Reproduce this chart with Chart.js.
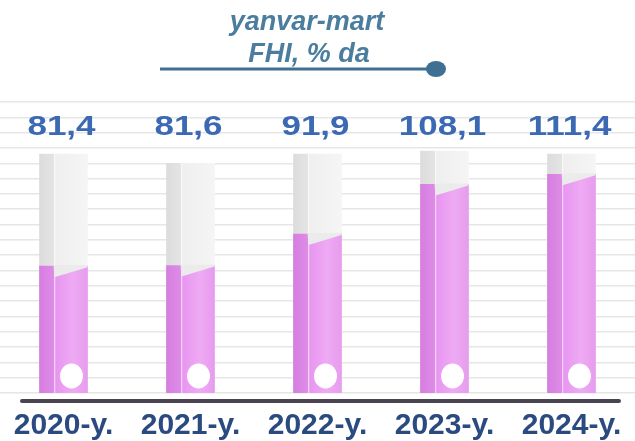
<!DOCTYPE html>
<html>
<head>
<meta charset="utf-8">
<script src="https://cdn.jsdelivr.net/npm/chart.js@4"></script>
<style>
  body { margin: 0; background: #fff; }
</style>
</head>
<body>
<canvas id="myChart" width="635" height="441"></canvas>
<script>
// data
const years = ['2020-y.', '2021-y.', '2022-y.', '2023-y.', '2024-y.'];
const fhiValues = [81.4, 81.6, 91.9, 108.1, 111.4];
const valueLabels = ['81,4', '81,6', '91,9', '108,1', '111,4'];
const titleLines = ['yanvar-mart', 'FHI, % da'];
// the empty glass tube behind each bar
const tubeTops = [118, 115, 118, 119, 118];

const BAR_W = 48;
const FONT = '"Liberation Sans", Arial, sans-serif';

// horizontal gradient for a 3d-ish tube face
const faceGradient = (c, stops, fallback) => {
  const chart = c.chart;
  if (!chart.chartArea || c.dataIndex === undefined) return fallback;
  const x = chart.scales.x.getPixelForValue(c.dataIndex);
  const g = chart.ctx.createLinearGradient(x - BAR_W / 2, 0, x + BAR_W / 2, 0);
  stops.forEach(s => g.addColorStop(s[0], s[1]));
  return g;
};

const pinkStops = [[0, '#d67ee0'], [0.3, '#de8ce8'], [0.31, '#f4d8f7'], [0.34, '#e896f0'], [0.7, '#eeaaf4'], [1, '#e79ced']];
const grayStops = [[0, '#dcdcdc'], [0.3, '#e4e4e4'], [0.31, '#f9f9f9'], [0.34, '#efefef'], [1, '#f5f5f5']];

const decoPlugin = {
  id: 'deco',
  afterDatasetsDraw(chart) {
    const ctx = chart.ctx;
    const area = chart.chartArea;
    const meta = chart.getDatasetMeta(0);
    meta.data.forEach((bar, i) => {
      const left = bar.x - BAR_W / 2, right = bar.x + BAR_W / 2;
      // slanted liquid surface
      ctx.save();
      ctx.fillStyle = '#ebebeb';
      ctx.beginPath();
      ctx.moveTo(left + 14, bar.y - 1);
      ctx.lineTo(right, bar.y - 1);
      ctx.lineTo(right, bar.y + 1);
      ctx.lineTo(left + 15, bar.y + 11);
      ctx.closePath();
      ctx.fill();
      // white bubble at the bottom
      ctx.fillStyle = '#ffffff';
      ctx.beginPath();
      ctx.ellipse(bar.x + 8, area.bottom - 17, 11.5, 12.5, 0, 0, Math.PI * 2);
      ctx.fill();
      // value label (wide bold face)
      ctx.fillStyle = '#3b69b3';
      ctx.font = 'bold 28px ' + FONT;
      ctx.textAlign = 'center';
      ctx.textBaseline = 'alphabetic';
      ctx.translate(bar.x - 2, 135);
      ctx.scale(1.25, 1);
      ctx.fillText(valueLabels[i], 0, 0);
      ctx.restore();
    });
    // base line
    ctx.save();
    ctx.strokeStyle = '#4a4352';
    ctx.lineWidth = 4;
    ctx.lineCap = 'round';
    ctx.beginPath();
    ctx.moveTo(22, area.bottom + 8);
    ctx.lineTo(619, area.bottom + 8);
    ctx.stroke();
    ctx.restore();
  },
  afterDraw(chart) {
    const ctx = chart.ctx;
    ctx.save();
    // heading
    ctx.fillStyle = '#4b7d9e';
    ctx.font = 'italic bold 27px ' + FONT;
    ctx.textAlign = 'center';
    ctx.textBaseline = 'alphabetic';
    ctx.fillText(titleLines[0], 307, 30);
    ctx.fillText(titleLines[1], 309, 62);
    // line with dot under the heading
    ctx.strokeStyle = '#3f6f93';
    ctx.fillStyle = '#3f6f93';
    ctx.lineWidth = 3;
    ctx.beginPath();
    ctx.moveTo(160, 69);
    ctx.lineTo(430, 69);
    ctx.stroke();
    ctx.beginPath();
    ctx.ellipse(436, 69, 10, 8, 0, 0, Math.PI * 2);
    ctx.fill();
    ctx.restore();
  }
};

const ctx = document.getElementById('myChart');
new Chart(ctx, {
  type: 'bar',
  data: {
    labels: years,
    datasets: [
      {
        label: 'FHI, % da',
        data: fhiValues,
        order: 1,
        grouped: false,
        barThickness: BAR_W,
        backgroundColor: c => faceGradient(c, pinkStops, '#e89cf0')
      },
      {
        label: 'tube',
        data: tubeTops,
        order: 2,
        grouped: false,
        barThickness: BAR_W,
        backgroundColor: c => faceGradient(c, grayStops, '#ececec')
      }
    ]
  },
  options: {
    responsive: false,
    animation: false,
    devicePixelRatio: 1,
    layout: { padding: { left: 0, right: 0, top: 102, bottom: -10 } },
    plugins: {
      legend: { display: false },
      tooltip: { enabled: false },
      title: { display: false }
    },
    scales: {
      x: {
        grid: { display: false },
        border: { display: false },
        ticks: {
          color: '#2b4a80',
          padding: 7,
          font: { family: FONT, size: 30, weight: 'bold' }
        }
      },
      y: {
        min: 40,
        max: 135,
        border: { display: false },
        grid: { color: '#e6e6e6', lineWidth: 1.5, drawTicks: false },
        ticks: { display: false, stepSize: 5 }
      }
    }
  },
  plugins: [decoPlugin]
});
</script>
</body>
</html>
